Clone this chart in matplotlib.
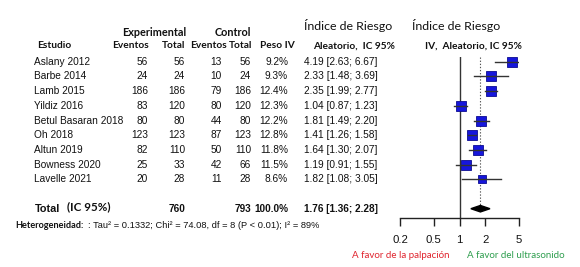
import matplotlib
matplotlib.use("Agg")
import matplotlib.pyplot as plt
import numpy as np

studies = ["Aslany 2012", "Barbe 2014", "Lamb 2015", "Yildiz 2016", "Betul Basaran 2018",
           "Oh 2018", "Altun 2019", "Bowness 2020", "Lavelle 2021"]
exp_events = [56, 24, 186, 83, 80, 123, 82, 25, 20]
exp_total = [56, 24, 186, 120, 80, 123, 110, 33, 28]
ctrl_events = [13, 10, 79, 80, 44, 87, 50, 42, 11]
ctrl_total = [56, 24, 186, 120, 80, 123, 110, 66, 28]
weights = [9.2, 9.3, 12.4, 12.3, 12.2, 12.8, 11.8, 11.5, 8.6]
rr = [4.19, 2.33, 2.35, 1.04, 1.81, 1.41, 1.64, 1.19, 1.82]
rr_lo = [2.63, 1.48, 1.99, 0.87, 1.49, 1.26, 1.30, 0.91, 1.08]
rr_hi = [6.67, 3.69, 2.77, 1.23, 2.20, 1.58, 2.07, 1.55, 3.05]
total_exp = 760
total_ctrl = 793
total_rr, total_lo, total_hi = 1.76, 1.36, 2.28
tick_vals = [0.2, 0.5, 1, 2, 5]
tick_labels = ["0.2", "0.5", "1", "2", "5"]
het_text = ": Tau\u00b2 = 0.1332; Chi\u00b2 = 74.08, df = 8 (P < 0.01); I\u00b2 = 89%"

W, H = 580, 267
fig = plt.figure(figsize=(W / 100, H / 100), dpi=100)
fig.patch.set_facecolor("white")

NARROW = ["Liberation Sans", "DejaVu Sans"]
CAL = ["Lato", "DejaVu Sans"]
DS = 7.3   # data font size
HS = 7.3   # bold header size


def T(x, y, s, ha="left", fam=NARROW, size=DS, weight="normal", color="#111111", va="center"):
    fig.text(x / W, 1 - y / H, s, ha=ha, va=va, family=fam, fontsize=size,
             fontweight=weight, color=color)


row_y0, row_dy = 61.7, 14.7

# headers
T(154, 32, "Experimental", ha="center", fam=CAL, size=7.8, weight="bold")
T(233, 32, "Control", ha="center", fam=CAL, size=7.8, weight="bold")
T(348, 26, "Índice de Riesgo", ha="center", fam=CAL, size=8.9)
T(456, 26, "Índice de Riesgo", ha="center", fam=CAL, size=8.9)
T(37, 46, "Estudio", fam=CAL, size=HS, weight="bold")
T(149, 46, "Eventos", ha="right", fam=CAL, size=HS, weight="bold")
T(185, 46, "Total", ha="right", fam=CAL, size=HS, weight="bold")
T(227, 46, "Eventos", ha="right", fam=CAL, size=HS, weight="bold")
T(252, 46, "Total", ha="right", fam=CAL, size=HS, weight="bold")
T(295, 46, "Peso IV", ha="right", fam=CAL, size=HS, weight="bold")
T(354, 46, "Aleatorio,  IC 95%", ha="center", fam=CAL, size=HS, weight="bold")
T(473, 46, "IV,  Aleatorio, IC 95%", ha="center", fam=CAL, size=HS, weight="bold")

for i, name in enumerate(studies):
    y = row_y0 + row_dy * i
    T(34, y, name)
    T(148, y, str(exp_events[i]), ha="right")
    T(185, y, str(exp_total[i]), ha="right")
    T(222, y, str(ctrl_events[i]), ha="right")
    T(251, y, str(ctrl_total[i]), ha="right")
    T(288, y, f"{weights[i]:.1f}%", ha="right")
    T(304, y, f"{rr[i]:.2f} [{rr_lo[i]:.2f}; {rr_hi[i]:.2f}]")

yt = row_y0 + row_dy * 10
TS = 7.2
T(35, yt, "Total", weight="bold", size=7.8)
T(67, yt - 2, "(IC 95%)", fam=CAL, size=8.4, weight="bold")
T(185, yt, str(total_exp), ha="right", weight="bold", size=TS)
T(251, yt, str(total_ctrl), ha="right", weight="bold", size=TS)
T(288, yt, "100.0%", ha="right", weight="bold", size=TS)
T(304, yt, f"{total_rr:.2f} [{total_lo:.2f}; {total_hi:.2f}]", weight="bold", size=TS)

T(15, 226, "Heterogeneidad:", fam=CAL, size=6.6, weight="bold")
T(88, 226, het_text, size=6.7)

# forest axes: x=0.2 at px 400, x=5 at px 519 ; rows mapped to pixels
top_px, bot_px = 57, 218
r_top = (top_px - row_y0) / row_dy
r_bot = (bot_px - row_y0) / row_dy
ax = fig.add_axes([400 / W, 1 - bot_px / H, 119 / W, (bot_px - top_px) / H])
ax.set_xscale("log")
ax.set_xlim(0.2, 5)
ax.set_ylim(r_bot, r_top)
ax.patch.set_alpha(0)
for s in ["top", "right", "left"]:
    ax.spines[s].set_visible(False)
ax.spines["bottom"].set_linewidth(1.0)
ax.spines["bottom"].set_color("#222222")
ax.set_yticks([])
ax.set_xticks(tick_vals)
ax.set_xticklabels(tick_labels, family=NARROW, fontsize=8.2, color="#111111")
ax.xaxis.set_minor_locator(matplotlib.ticker.NullLocator())
ax.tick_params(axis="x", direction="out", length=6, width=1.0, color="#222222", pad=6)

ax.axvline(1, color="#333333", lw=1.0, zorder=1)
ax.plot([total_rr, total_rr], [r_top, 10], color="#555555", lw=0.8, ls=(0, (1.2, 1.6)), zorder=1)

rows = np.arange(len(studies))
for i in rows:
    side_px = 10.5 * np.sqrt(weights[i] / 12.0)
    ax.plot([rr[i]], [i], marker="s", ms=side_px * 0.72, mfc="#1616dc", mec="#0c0c90",
            mew=0.6, ls="none", zorder=2)
    ax.plot([rr_lo[i], rr_hi[i]], [i, i], color="#333333", lw=1.0, zorder=3)

dh = 0.22
ax.fill([total_lo, total_rr, total_hi, total_rr], [10, 10 - dh, 10, 10 + dh],
        color="black", zorder=3, clip_on=False)

T(401, 255, "A favor de la palpación", ha="center", fam=CAL, size=7.0, color="#e0252f")
T(516, 255, "A favor del ultrasonido", ha="center", fam=CAL, size=7.0, color="#2e9e4e")

fig.savefig("out.png", dpi=100)
